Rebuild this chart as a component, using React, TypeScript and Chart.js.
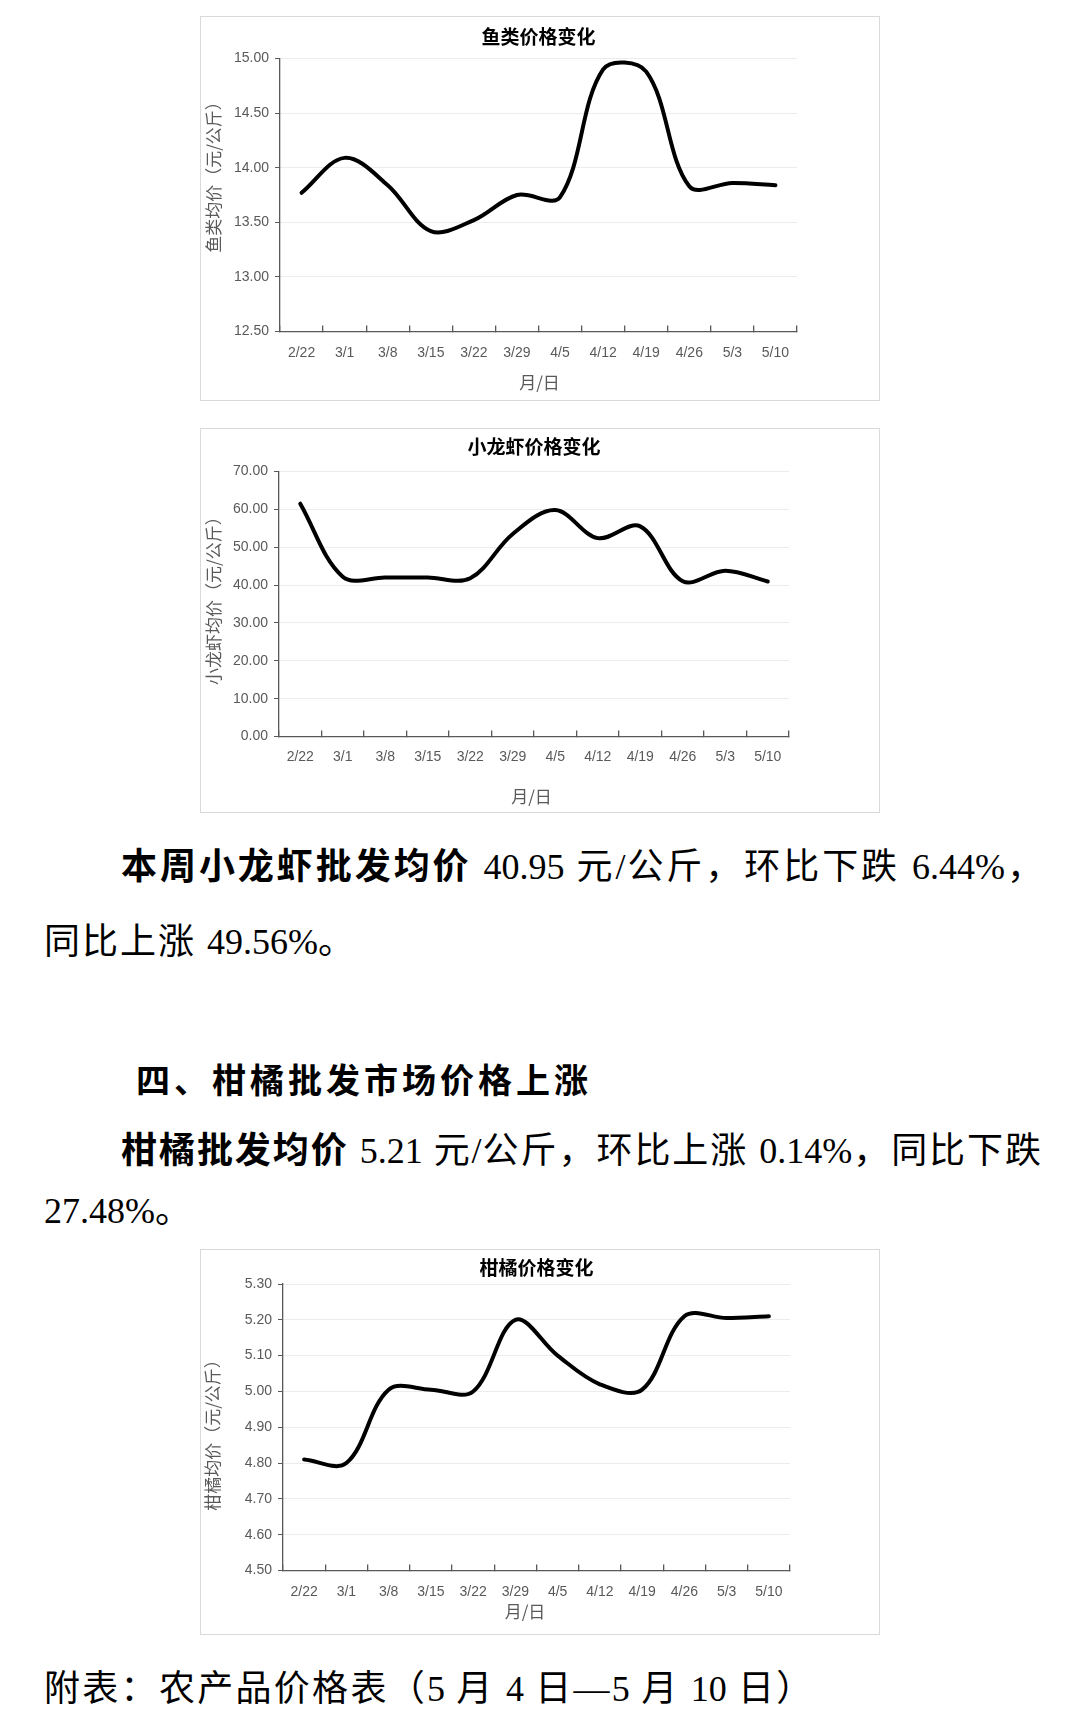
import React, { useEffect, useRef } from "react";
import { Chart, registerables } from "chart.js";

Chart.register(...registerables);

// ---------- data ----------
const dates = ["2/22", "3/1", "3/8", "3/15", "3/22", "3/29", "4/5", "4/12", "4/19", "4/26", "5/3", "5/10"];

const fishPrices = [13.77, 14.09, 13.84, 13.42, 13.52, 13.75, 13.73, 14.9, 14.88, 13.83, 13.86, 13.84];
const crayfishPrices = [61.5, 42.2, 42.0, 42.0, 41.8, 53.5, 59.8, 52.4, 55.5, 41.0, 43.77, 40.95];
const citrusPrices = [4.81, 4.8, 5.005, 5.005, 5.0, 5.2, 5.1, 5.02, 5.005, 5.21, 5.205, 5.21];

const fishAxis = [12.5, 15, 0.5];
const crayfishAxis = [0, 70, 10];
const citrusAxis = [4.5, 5.3, 0.1];

const fishTitle = "鱼类价格变化";
const crayfishTitle = "小龙虾价格变化";
const citrusTitle = "柑橘价格变化";
const fishYTitle = "鱼类均价（元/公斤）";
const crayfishYTitle = "小龙虾均价（元/公斤）";
const citrusYTitle = "柑橘均价（元/公斤）";
const xTitle = "月/日";

const CJK = "'Noto Sans CJK SC', 'Noto Sans', sans-serif";
const NARROW = "'Liberation Sans Narrow', 'Liberation Sans', sans-serif";
const GREY = "#595959";

type Spec = {
  left: number;
  top: number;
  width: number;
  height: number;
  values: number[];
  axis: number[];
  title: string;
  yTitle: string;
  yWidth: number;
  padRight: number;
  titlePad: [number, number];
  xHeight: number;
  xTickPad: number;
  xTitlePos: [number, number];
  yTitlePos: [number, number];
};

function LineChart({ spec }: { spec: Spec }) {
  const ref = useRef<HTMLCanvasElement | null>(null);
  useEffect(() => {
    const s = spec;
    const axisTitles = {
      id: "axisTitles",
      afterDraw(chart: any) {
        const ctx = chart.ctx;
        ctx.save();
        ctx.fillStyle = GREY;
        ctx.font = `17px ${CJK}`;
        ctx.textAlign = "center";
        ctx.textBaseline = "middle";
        ctx.fillText(xTitle, s.xTitlePos[0], s.xTitlePos[1]);
        ctx.translate(s.yTitlePos[0], s.yTitlePos[1]);
        ctx.rotate(-Math.PI / 2);
        ctx.fillText(s.yTitle, 0, 0);
        ctx.restore();
      },
    };
    const chart = new Chart(ref.current as HTMLCanvasElement, {
      type: "line",
      data: {
        labels: dates,
        datasets: [
          {
            data: s.values,
            borderColor: "#000000",
            borderWidth: 4,
            tension: 0.35,
            pointRadius: 0,
            fill: false,
            clip: false as any,
            borderCapStyle: "round",
            borderJoinStyle: "round",
          },
        ],
      },
      options: {
        responsive: false,
        animation: false,
        layout: { padding: { left: 0, right: s.padRight, top: 0, bottom: 0 } },
        plugins: {
          legend: { display: false },
          tooltip: { enabled: false },
          title: {
            display: true,
            fullSize: false,
            text: s.title,
            color: "#000000",
            font: { family: CJK, size: 19, weight: "bold" },
            padding: { top: s.titlePad[0], bottom: s.titlePad[1] },
          },
        },
        scales: {
          x: {
            type: "category",
            offset: true,
            grid: {
              offset: true,
              drawOnChartArea: false,
              drawTicks: true,
              tickLength: -6,
              tickColor: GREY,
              lineWidth: 1.3,
            },
            border: { color: GREY, width: 1.3 },
            ticks: {
              padding: s.xTickPad,
              color: GREY,
              font: { family: NARROW, size: 14 },
              maxRotation: 0,
              autoSkip: false,
            },
            afterFit: (sc: any) => {
              sc.height = s.xHeight;
            },
          },
          y: {
            min: s.axis[0],
            max: s.axis[1],
            ticks: {
              stepSize: s.axis[2],
              padding: 6,
              color: GREY,
              font: { family: NARROW, size: 14 },
              callback: (v: any) => Number(v).toFixed(2),
            },
            grid: { color: "#ececec", tickColor: GREY, tickLength: 5, lineWidth: 1 },
            border: { color: GREY, width: 1.3 },
            afterFit: (sc: any) => {
              sc.width = s.yWidth;
            },
          },
        },
      },
      plugins: [axisTitles],
    });
    return () => chart.destroy();
  }, []);
  return (
    <>
      <canvas
        ref={ref}
        width={spec.width}
        height={spec.height}
        style={{ position: "absolute", left: spec.left, top: spec.top, width: spec.width, height: spec.height }}
      />
      <div
        style={{
          position: "absolute",
          left: spec.left,
          top: spec.top,
          width: spec.width,
          height: spec.height,
          border: "1px solid #d9d9d9",
          boxSizing: "border-box",
          pointerEvents: "none",
        }}
      />
    </>
  );
}

const chart1: Spec = {
  left: 200, top: 16, width: 680, height: 385,
  values: fishPrices, axis: fishAxis, title: fishTitle, yTitle: fishYTitle,
  yWidth: 80, padRight: 83, titlePad: [9.3, 10.4], xHeight: 69.5, xTickPad: 19,
  xTitlePos: [339.5, 367], yTitlePos: [14, 157],
};
const chart2: Spec = {
  left: 200, top: 428, width: 680, height: 385,
  values: crayfishPrices, axis: crayfishAxis, title: crayfishTitle, yTitle: crayfishYTitle,
  yWidth: 79, padRight: 91, titlePad: [7.3, 13.4], xHeight: 76.5, xTickPad: 18,
  xTitlePos: [331.5, 368.7], yTitlePos: [14, 168.7],
};
const chart3: Spec = {
  left: 200, top: 1249, width: 680, height: 386,
  values: citrusPrices, axis: citrusAxis, title: citrusTitle, yTitle: citrusYTitle,
  yWidth: 83, padRight: 90, titlePad: [7.6, 4.6], xHeight: 64.5, xTickPad: 18.8,
  xTitlePos: [325, 362.7], yTitlePos: [12.5, 182],
};

const TEXT_FONT = "'Liberation Serif', 'Noto Sans CJK SC', serif";

const lineBase: React.CSSProperties = {
  position: "absolute",
  fontFamily: TEXT_FONT,
  fontSize: 36,
  lineHeight: "36px",
  letterSpacing: 2,
  color: "#000",
  whiteSpace: "nowrap",
};

const justified: React.CSSProperties = {
  ...lineBase,
  letterSpacing: 1,
  width: 1000,
  textIndent: 77,
  textAlign: "justify",
  textAlignLast: "justify" as any,
};

const num: React.CSSProperties = { letterSpacing: 0 };

export default function App() {
  return (
    <div style={{ position: "absolute", left: 0, top: 0, width: 1080, height: 1720, background: "#fff", overflow: "hidden" }}>
      <LineChart spec={chart1} />
      <LineChart spec={chart2} />

      <div style={{ ...justified, left: 44, top: 865 - 16.5 }}>
        <b>本周小龙虾批发均价</b> <span style={num}>40.95</span> 元<span style={num}>/</span>公斤，环比下跌 <span style={num}>6.44%</span>，
      </div>
      <div style={{ ...lineBase, left: 44, top: 940 - 16.5 }}>
        同比上涨 <span style={num}>49.56%</span>。
      </div>

      <div style={{ ...lineBase, fontSize: 34, lineHeight: "34px", letterSpacing: 4, fontWeight: "bold", left: 136, top: 1081 - 15.6 }}>
        四、柑橘批发市场价格上涨
      </div>
      <div style={{ ...justified, left: 44, top: 1149 - 16.5, width: 998 }}>
        <b>柑橘批发均价</b> <span style={num}>5.21</span> 元<span style={num}>/</span>公斤，环比上涨 <span style={num}>0.14%</span>，同比下跌
      </div>
      <div style={{ ...lineBase, left: 44, top: 1209 - 16.5 }}>
        <span style={num}>27.48%</span>。
      </div>

      <LineChart spec={chart3} />

      <div style={{ ...lineBase, letterSpacing: 2.3, left: 44, top: 1687 - 16.5 }}>
        附表：农产品价格表（<span style={num}>5</span> 月 <span style={num}>4</span> 日—<span style={num}>5</span> 月 <span style={num}>10</span> 日）
      </div>
    </div>
  );
}
